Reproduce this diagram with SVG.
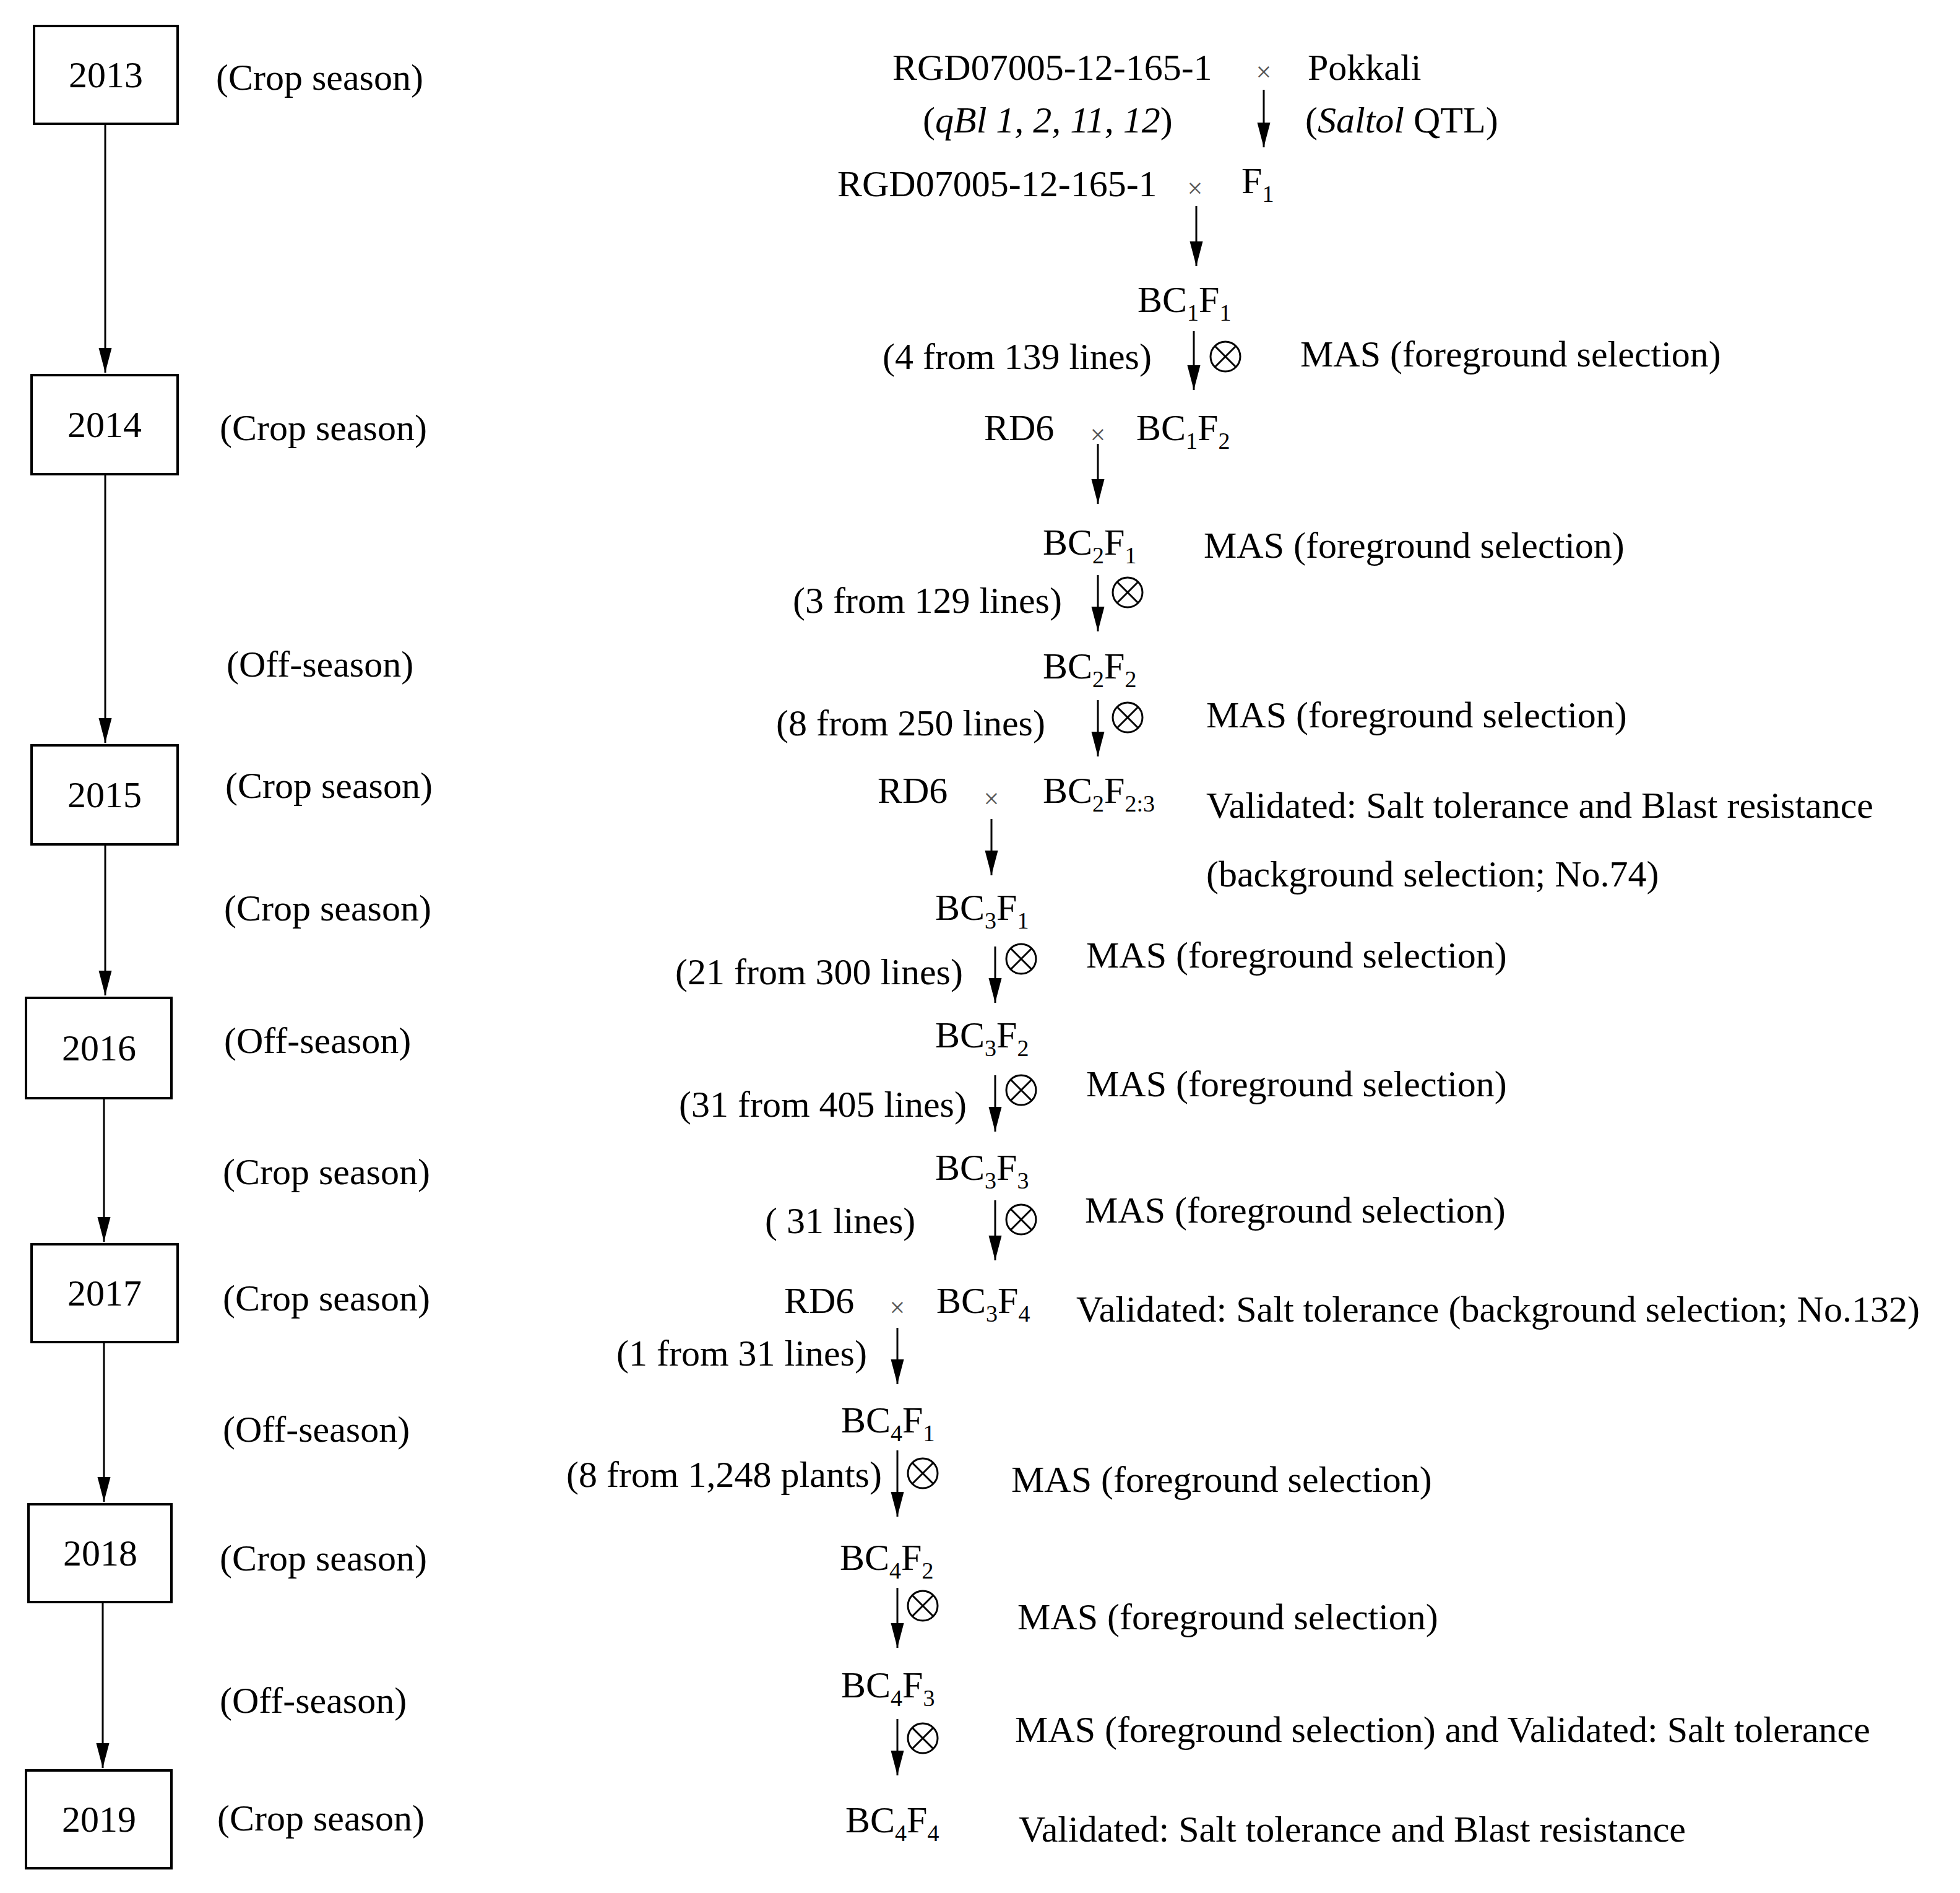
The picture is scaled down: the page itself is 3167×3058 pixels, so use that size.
<svg xmlns="http://www.w3.org/2000/svg" width="3167" height="3058" viewBox="0 0 3167 3058">
<style>
text{font-family:"Liberation Serif","Times New Roman",serif;font-size:60px;fill:#000}
.y{text-anchor:middle}
.x{font-size:44px;fill:#555;text-anchor:middle}
.s{font-size:38px}
.box{fill:none;stroke:#000;stroke-width:4}
.ln{stroke:#000;stroke-width:3;fill:none}
.a{stroke:#000;stroke-width:3;marker-end:url(#ah)}
</style>
<defs>
<marker id="ah" markerUnits="userSpaceOnUse" markerWidth="40" markerHeight="24" viewBox="0 -11 38 22" refX="38" refY="0" orient="auto"><path d="M0,-10 L38,0 L0,10z" fill="#000"/></marker>
<g id="ot"><circle r="24" class="ln"/><path d="M-17,-17 L17,17 M17,-17 L-17,17" class="ln"/></g>
</defs>
<g id="years">
<g id="y2013"><rect class="box" x="55" y="42" width="232" height="158"/><text class="y" x="171" y="141">2013</text></g>
<g id="y2014"><rect class="box" x="51" y="606" width="236" height="160"/><text class="y" x="169" y="706">2014</text></g>
<g id="y2015"><rect class="box" x="51" y="1204" width="236" height="160"/><text class="y" x="169" y="1304">2015</text></g>
<g id="y2016"><rect class="box" x="42" y="1612" width="235" height="162"/><text class="y" x="160" y="1713">2016</text></g>
<g id="y2017"><rect class="box" x="51" y="2010" width="236" height="158"/><text class="y" x="169" y="2109">2017</text></g>
<g id="y2018"><rect class="box" x="46" y="2430" width="231" height="158"/><text class="y" x="162" y="2529">2018</text></g>
<g id="y2019"><rect class="box" x="42" y="2860" width="235" height="158"/><text class="y" x="160" y="2959">2019</text></g>
</g>
<g id="seasons">
<text x="349" y="145">(Crop season)</text>
<text x="355" y="711">(Crop season)</text>
<text x="366" y="1093">(Off-season)</text>
<text x="364" y="1289">(Crop season)</text>
<text x="362" y="1487">(Crop season)</text>
<text x="362" y="1701">(Off-season)</text>
<text x="360" y="1913">(Crop season)</text>
<text x="360" y="2117">(Crop season)</text>
<text x="360" y="2329">(Off-season)</text>
<text x="355" y="2537">(Crop season)</text>
<text x="355" y="2767">(Off-season)</text>
<text x="351" y="2957">(Crop season)</text>
</g>
<g id="connectors">
<line class="a" x1="170" y1="200" x2="170" y2="602"/>
<line class="a" x1="170" y1="766" x2="170" y2="1200"/>
<line class="a" x1="170" y1="1364" x2="170" y2="1608"/>
<line class="a" x1="168" y1="1774" x2="168" y2="2006"/>
<line class="a" x1="168" y1="2168" x2="168" y2="2426"/>
<line class="a" x1="166" y1="2588" x2="166" y2="2856"/>
<line class="a" x1="2042" y1="145" x2="2042" y2="238"/>
<line class="a" x1="1933" y1="333" x2="1933" y2="430"/>
<line class="a" x1="1929" y1="535" x2="1929" y2="630"/>
<line class="a" x1="1774" y1="717" x2="1774" y2="814"/>
<line class="a" x1="1774" y1="929" x2="1774" y2="1020"/>
<line class="a" x1="1774" y1="1131" x2="1774" y2="1222"/>
<line class="a" x1="1602" y1="1323" x2="1602" y2="1414"/>
<line class="a" x1="1608" y1="1529" x2="1608" y2="1620"/>
<line class="a" x1="1608" y1="1737" x2="1608" y2="1828"/>
<line class="a" x1="1608" y1="1939" x2="1608" y2="2036"/>
<line class="a" x1="1450" y1="2145" x2="1450" y2="2236"/>
<line class="a" x1="1450" y1="2343" x2="1450" y2="2450"/>
<line class="a" x1="1450" y1="2565" x2="1450" y2="2662"/>
<line class="a" x1="1450" y1="2777" x2="1450" y2="2868"/>
<use href="#ot" x="1980" y="576"/>
<use href="#ot" x="1822" y="957"/>
<use href="#ot" x="1822" y="1159"/>
<use href="#ot" x="1650" y="1549"/>
<use href="#ot" x="1650" y="1761"/>
<use href="#ot" x="1650" y="1970"/>
<use href="#ot" x="1491" y="2380"/>
<use href="#ot" x="1491" y="2594"/>
<use href="#ot" x="1491" y="2808"/>
</g>
<g id="labels">
<text x="1442" y="129">RGD07005-12-165-1</text><text class="x" x="2042" y="131">×</text><text x="2113" y="129">Pokkali</text>
<text x="1491" y="214">(<tspan font-style="italic">qBl 1, 2, 11, 12</tspan>)</text>
<text x="2109" y="214">(<tspan font-style="italic">Saltol</tspan> QTL)</text>
<text x="1353" y="317">RGD07005-12-165-1</text><text class="x" x="1931" y="319">×</text><text x="2006" y="312">F<tspan class="s" dy="14">1</tspan></text>
<text x="1838" y="504">BC<tspan class="s" dy="14">1</tspan><tspan dy="-14">F</tspan><tspan class="s" dy="14">1</tspan></text>
<text x="1426" y="596">(4 from 139 lines)</text><text x="2101" y="592">MAS (foreground selection)</text>
<text x="1590" y="711">RD6</text><text class="x" x="1774" y="717">×</text><text x="1836" y="711">BC<tspan class="s" dy="14">1</tspan><tspan dy="-14">F</tspan><tspan class="s" dy="14">2</tspan></text>
<text x="1685" y="896">BC<tspan class="s" dy="14">2</tspan><tspan dy="-14">F</tspan><tspan class="s" dy="14">1</tspan></text><text x="1945" y="901">MAS (foreground selection)</text>
<text x="1281" y="990">(3 from 129 lines)</text>
<text x="1685" y="1096">BC<tspan class="s" dy="14">2</tspan><tspan dy="-14">F</tspan><tspan class="s" dy="14">2</tspan></text>
<text x="1254" y="1188">(8 from 250 lines)</text><text x="1949" y="1175">MAS (foreground selection)</text>
<text x="1418" y="1297">RD6</text><text class="x" x="1602" y="1305">×</text><text x="1685" y="1297">BC<tspan class="s" dy="14">2</tspan><tspan dy="-14">F</tspan><tspan class="s" dy="14">2:3</tspan></text>
<text x="1949" y="1321">Validated: Salt tolerance and Blast resistance</text>
<text x="1949" y="1432">(background selection; No.74)</text>
<text x="1511" y="1486">BC<tspan class="s" dy="14">3</tspan><tspan dy="-14">F</tspan><tspan class="s" dy="14">1</tspan></text>
<text x="1091" y="1590">(21 from 300 lines)</text><text x="1755" y="1563">MAS (foreground selection)</text>
<text x="1511" y="1692">BC<tspan class="s" dy="14">3</tspan><tspan dy="-14">F</tspan><tspan class="s" dy="14">2</tspan></text>
<text x="1097" y="1804">(31 from 405 lines)</text><text x="1755" y="1771">MAS (foreground selection)</text>
<text x="1511" y="1906">BC<tspan class="s" dy="14">3</tspan><tspan dy="-14">F</tspan><tspan class="s" dy="14">3</tspan></text>
<text x="1236" y="1992">( 31 lines)</text><text x="1753" y="1975">MAS (foreground selection)</text>
<text x="1267" y="2121">RD6</text><text class="x" x="1450" y="2127">×</text><text x="1513" y="2121">BC<tspan class="s" dy="14">3</tspan><tspan dy="-14">F</tspan><tspan class="s" dy="14">4</tspan></text>
<text x="1739" y="2135">Validated: Salt tolerance (background selection; No.132)</text>
<text x="996" y="2206">(1 from 31 lines)</text>
<text x="1359" y="2314">BC<tspan class="s" dy="14">4</tspan><tspan dy="-14">F</tspan><tspan class="s" dy="14">1</tspan></text>
<text x="915" y="2402">(8 from 1,248 plants)</text><text x="1634" y="2410">MAS (foreground selection)</text>
<text x="1357" y="2536">BC<tspan class="s" dy="14">4</tspan><tspan dy="-14">F</tspan><tspan class="s" dy="14">2</tspan></text>
<text x="1644" y="2632">MAS (foreground selection)</text>
<text x="1359" y="2742">BC<tspan class="s" dy="14">4</tspan><tspan dy="-14">F</tspan><tspan class="s" dy="14">3</tspan></text>
<text x="1640" y="2814">MAS (foreground selection) and Validated: Salt tolerance</text>
<text x="1366" y="2960">BC<tspan class="s" dy="14">4</tspan><tspan dy="-14">F</tspan><tspan class="s" dy="14">4</tspan></text>
<text x="1646" y="2975">Validated: Salt tolerance and Blast resistance</text>
</g>
</svg>
